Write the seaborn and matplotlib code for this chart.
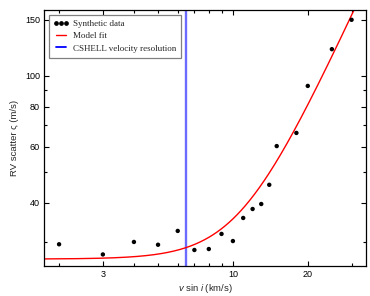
import numpy as np
import pandas as pd
import matplotlib
matplotlib.use('Agg')
import matplotlib.pyplot as plt
import seaborn as sns
from matplotlib.ticker import FixedLocator, FixedFormatter, NullFormatter
from matplotlib.lines import Line2D

# ---- data ----
vsini = [2, 3, 4, 5, 6, 7, 8, 9, 10, 11, 12, 13, 14, 15, 18, 20, 25, 30]
rv_scatter = [29.6, 27.5, 30.1, 29.5, 32.6, 28.4, 28.6, 31.9, 30.3, 35.8,
              38.2, 39.6, 45.5, 60.2, 66.2, 93.0, 121.3, 150.0]

# model fit parameters: sigma = sqrt(s0^2 + (a * vsini^p)^2)
model_sigma0 = 26.6
model_amp = 0.471
model_power = 1.7

cshell_resolution = 6.5

x_major = [3, 10, 20]
x_minor = [2, 4, 5, 6, 7, 8, 9, 30]
y_major = [40, 60, 80, 100, 150]
y_minor = [30, 50, 70, 90]
x_limits = (1.74, 34.3)
y_limits = (25.3, 161)

labels = ["Synthetic data", "Model fit", "CSHELL velocity resolution"]

# ---- styling ----
sns.set_theme(style='ticks')
plt.rcParams['font.family'] = ['Liberation Sans', 'DejaVu Sans']
plt.rcParams['mathtext.fontset'] = 'custom'
plt.rcParams['mathtext.it'] = 'Liberation Sans:italic'
plt.rcParams['mathtext.rm'] = 'Liberation Sans'

fig = plt.figure(figsize=(3.7, 2.96), dpi=100)
ax = fig.add_axes([0.119, 0.1014, 0.8703, 0.8648])

data = pd.DataFrame({'vsini': vsini, 'rv': rv_scatter})
vgrid = np.logspace(np.log10(x_limits[0]), np.log10(x_limits[1]), 400)
model = pd.DataFrame({'vsini': vgrid,
                      'rv': np.sqrt(model_sigma0**2 + (model_amp * vgrid**model_power)**2)})

ax.axvline(cshell_resolution, color=(0.42, 0.42, 1.0), lw=1.7, zorder=1)
sns.lineplot(data=model, x='vsini', y='rv', ax=ax, color='red', lw=1.0, zorder=2)
sns.scatterplot(data=data, x='vsini', y='rv', ax=ax, color='black', s=10,
                edgecolor='none', zorder=3, legend=False)

ax.set_xscale('log')
ax.set_yscale('log')
ax.set_xlim(*x_limits)
ax.set_ylim(*y_limits)

ax.xaxis.set_major_locator(FixedLocator(x_major))
ax.xaxis.set_major_formatter(FixedFormatter([str(v) for v in x_major]))
ax.xaxis.set_minor_locator(FixedLocator(x_minor))
ax.xaxis.set_minor_formatter(NullFormatter())
ax.yaxis.set_major_locator(FixedLocator(y_major))
ax.yaxis.set_major_formatter(FixedFormatter([str(v) for v in y_major]))
ax.yaxis.set_minor_locator(FixedLocator(y_minor))
ax.yaxis.set_minor_formatter(NullFormatter())

ax.tick_params(which='both', direction='in', top=True, right=True,
               width=0.8, colors='black', labelsize=6.5, pad=3)
ax.tick_params(which='major', length=3.8)
ax.tick_params(which='minor', length=1.9)
for s in ax.spines.values():
    s.set_linewidth(0.9)
    s.set_color('black')

ax.set_xlabel(r'$v$ sin $i$ (km/s)', fontsize=6.8, labelpad=2)
ax.set_ylabel('RV scatter ς (m/s)', fontsize=6.8, labelpad=4)

handles = [
    Line2D([], [], marker='o', ls='', color='black', markersize=2.4),
    Line2D([], [], color='red', lw=1.0),
    Line2D([], [], color='blue', lw=1.3),
]
leg = ax.legend(handles, labels, loc='upper left', numpoints=3,
                prop={'family': 'Liberation Serif', 'size': 6.5},
                handlelength=1.7, handletextpad=0.45, labelspacing=0.45,
                borderpad=0.55, borderaxespad=0.5, fancybox=False,
                frameon=True, framealpha=1.0)
leg.get_frame().set_edgecolor('#808080')
leg.get_frame().set_linewidth(0.9)

fig.savefig('out.png', dpi=100)
